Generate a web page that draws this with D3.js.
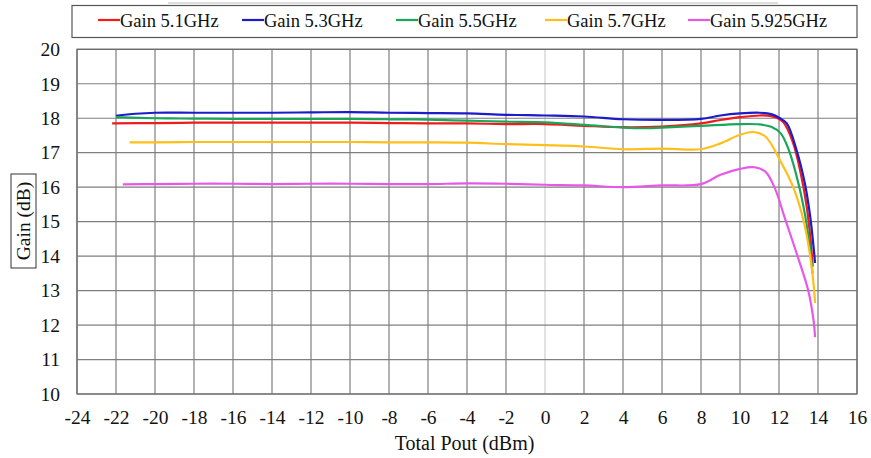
<!DOCTYPE html>
<html><head><meta charset="utf-8">
<script src="https://cdn.jsdelivr.net/npm/d3@7"></script>
<style>body{margin:0;background:#fff}svg{display:block}
text{font-family:"Liberation Serif","Times New Roman",Times,serif;}</style>
</head><body><svg id="c" width="871" height="458"></svg>
<script>
const seriesNames = ["Gain 5.1GHz","Gain 5.3GHz","Gain 5.5GHz","Gain 5.7GHz","Gain 5.925GHz"];
const seriesColors = ["#ee1c1c","#1c1cc8","#1aa65a","#ffbf1a","#e858e8"];
const xTicks = [-24,-22,-20,-18,-16,-14,-12,-10,-8,-6,-4,-2,0,2,4,6,8,10,12,14,16];
const yTicks = [10,11,12,13,14,15,16,17,18,19,20];

const x51 = [-22.2,-20,-18,-16,-14,-12,-10,-8,-6,-4,-2,0,2,4,6,8,9,10,11,11.6,12.2,12.73,13.15,13.42,13.62,13.73];
const y51 = [17.85,17.86,17.87,17.87,17.87,17.87,17.87,17.86,17.85,17.85,17.83,17.83,17.78,17.74,17.76,17.85,17.95,18.03,18.08,18.06,17.9,17.27,16.3,15.44,14.47,13.7];
const x53 = [-22,-21,-20,-18,-16,-14,-12,-10,-8,-6,-4,-2,0,2,4,6,8,9,10,11,11.6,12.05,12.4,12.9,13.33,13.6,13.77,13.85];
const y53 = [18.07,18.13,18.16,18.16,18.16,18.16,18.17,18.18,18.16,18.15,18.14,18.10,18.08,18.05,17.97,17.95,17.98,18.08,18.14,18.16,18.12,18.0,17.85,17.08,16.1,15.15,14.28,13.8];
const x55 = [-22,-20,-18,-16,-14,-12,-10,-8,-6,-4,-2,0,2,4,5,6,8,10,11,11.6,12.09,12.5,13.0,13.35,13.6,13.72];
const y55 = [18.03,18.0,17.99,17.98,17.98,17.98,17.98,17.97,17.96,17.93,17.9,17.88,17.81,17.73,17.71,17.73,17.78,17.83,17.82,17.75,17.56,17.08,16.1,15.15,14.18,13.5];
const x57 = [-21.3,-20,-18,-16,-14,-12,-10,-8,-6,-4,-2,0,2,4,6,8,9,10,10.7,11.3,12.09,12.73,13.25,13.6,13.77,13.85];
const y57 = [17.30,17.30,17.31,17.31,17.31,17.31,17.31,17.30,17.30,17.29,17.25,17.22,17.18,17.10,17.12,17.10,17.27,17.52,17.6,17.47,16.74,16.0,15.05,14.0,13.2,12.64];
const x59 = [-21.65,-20,-18,-16,-14,-12,-10,-8,-6,-4,-2,0,2,4,6,8,9,10,10.7,11.3,11.8,12.3,12.95,13.5,13.78,13.85];
const y59 = [16.08,16.09,16.10,16.10,16.09,16.10,16.10,16.09,16.09,16.11,16.10,16.07,16.05,16.0,16.05,16.09,16.36,16.53,16.58,16.45,15.95,15.1,14.0,13.0,12.1,11.65];

const seriesX = [x51,x53,x55,x57,x59];
const seriesY = [y51,y53,y55,y57,y59];

const svg = d3.select("#c");
const L=77, R=857, T=49.3, B=394;
const x = d3.scaleLinear().domain([-24,16]).range([L,R]);
const y = d3.scaleLinear().domain([10,20]).range([B,T]);
const font = '"Liberation Serif","Times New Roman",Times,serif';

svg.append("rect").attr("width",871).attr("height",458).attr("fill","#fff");

// grid
const g = svg.append("g");
xTicks.forEach(v=>{
  g.append("line").attr("x1",x(v)).attr("x2",x(v)).attr("y1",T).attr("y2",B)
   .attr("stroke", v===0 ? "#cfcfcf" : "#7f7f7f").attr("stroke-width",1.2);
});
yTicks.forEach(v=>{
  g.append("line").attr("x1",L).attr("x2",R).attr("y1",y(v)).attr("y2",y(v))
   .attr("stroke","#7f7f7f").attr("stroke-width",1.2);
});
svg.append("rect").attr("x",L).attr("y",T).attr("width",R-L).attr("height",B-T)
  .attr("fill","none").attr("stroke","#6a6a6a").attr("stroke-width",1.2);

// axes labels via d3 axes
const xa = svg.append("g").attr("transform",`translate(0,${B})`)
  .call(d3.axisBottom(x).tickValues(xTicks).tickSize(0).tickPadding(16).tickFormat(d3.format("d")));
const ya = svg.append("g").attr("transform",`translate(${L},0)`)
  .call(d3.axisLeft(y).tickValues(yTicks).tickSize(0).tickPadding(17).tickFormat(d3.format("d")));
[xa,ya].forEach(a=>{
  a.attr("font-family",font).attr("font-size",19);
  a.select(".domain").remove();
  a.selectAll("text").style("font-family",font).style("font-size","19.5px").attr("fill","#111");
});
xa.selectAll("text").text(d=> d<0 ? "-"+Math.abs(d) : d);

svg.append("text").attr("x",464.5).attr("y",450).attr("text-anchor","middle")
  .style("font-family",font).style("font-size","20px").attr("fill","#111").text("Total Pout (dBm)");

// y title boxed
const yt = svg.append("g").attr("transform","translate(23.5,221) rotate(-90)");
yt.append("rect").attr("x",-47).attr("y",-12.5).attr("width",94).attr("height",25)
  .attr("fill","#fff").attr("stroke","#333").attr("stroke-width",1);
yt.append("text").attr("x",0).attr("y",6.8).attr("text-anchor","middle")
  .style("font-family",font).style("font-size","19.5px").attr("fill","#111").text("Gain (dB)");

// lines
const line = d3.line().x(d=>x(d[0])).y(d=>y(d[1])).curve(d3.curveCatmullRom.alpha(0.5));
seriesNames.forEach((n,i)=>{
  const pts = seriesX[i].map((v,j)=>[v,seriesY[i][j]]);
  svg.append("path").attr("d",line(pts)).attr("fill","none")
    .attr("stroke",seriesColors[i]).attr("stroke-width",2.2).attr("stroke-linejoin","round");
});

// legend
svg.append("line").attr("x1",168).attr("x2",778).attr("y1",3).attr("y2",3).attr("stroke","#bbb").attr("stroke-width",1);
svg.append("rect").attr("x",72).attr("y",5.5).attr("width",785).attr("height",32)
  .attr("fill","#fff").attr("stroke","#555").attr("stroke-width",1.2);
const legX = [98,242,396,545,688];
seriesNames.forEach((n,i)=>{
  svg.append("line").attr("x1",legX[i]).attr("x2",legX[i]+22).attr("y1",20).attr("y2",20)
    .attr("stroke",seriesColors[i]).attr("stroke-width",2.2);
  svg.append("text").attr("x",legX[i]+22).attr("y",26.5)
    .style("font-family",font).style("font-size","18.5px").attr("fill","#111").text(n);
});
</script></body></html>
